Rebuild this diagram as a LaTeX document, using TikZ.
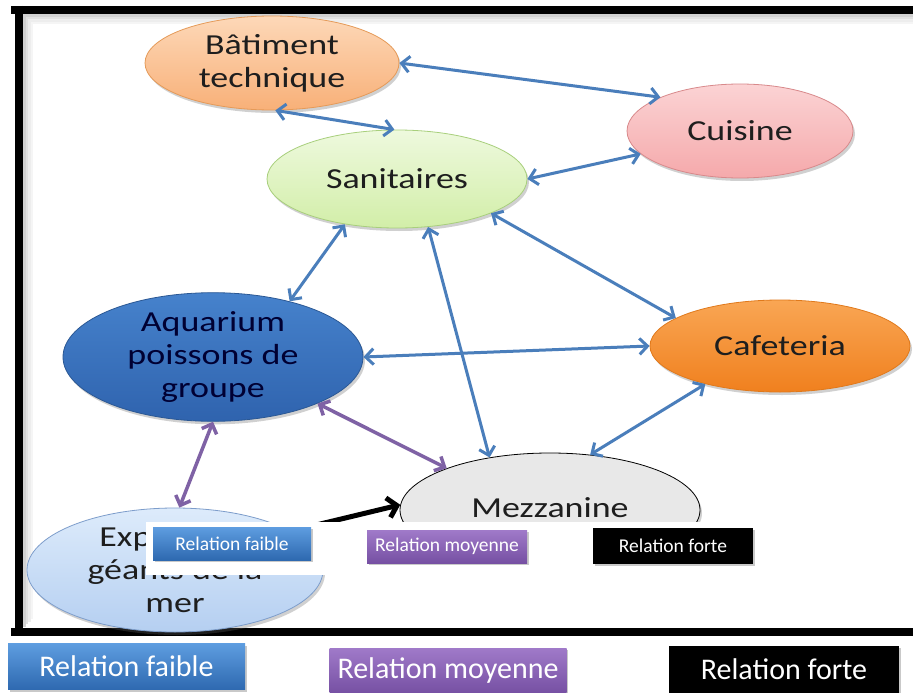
\documentclass[tikz,border=0pt]{standalone}
\usepackage{fontspec}
\setmainfont{Carlito}
\newfontfamily\bubfont[FakeStretch=1.24]{Carlito}
\usetikzlibrary{shapes.geometric,arrows.meta,shadows}
\definecolor{linkblue}{HTML}{4A7EBB}
\definecolor{linkpurple}{HTML}{7F62A5}
\definecolor{txt}{HTML}{1E1E1E}
\definecolor{batT}{HTML}{FDD8B8}\definecolor{batB}{HTML}{F8B078}\definecolor{batD}{HTML}{E59A58}
\definecolor{cuiT}{HTML}{FBD3D4}\definecolor{cuiB}{HTML}{F5A9AB}\definecolor{cuiD}{HTML}{D8898B}
\definecolor{sanT}{HTML}{EEF9DE}\definecolor{sanB}{HTML}{D2EEA8}\definecolor{sanD}{HTML}{A8CF7C}
\definecolor{aqT}{HTML}{4682CC}\definecolor{aqB}{HTML}{2F63AE}\definecolor{aqD}{HTML}{2B5894}
\definecolor{caT}{HTML}{F9A654}\definecolor{caB}{HTML}{F0801E}\definecolor{caD}{HTML}{E0791B}
\definecolor{exT}{HTML}{DDEBFB}\definecolor{exB}{HTML}{B5CFF1}\definecolor{exD}{HTML}{7D9DCB}
\definecolor{lbT}{HTML}{5E9DE0}\definecolor{lbB}{HTML}{2E69B0}
\definecolor{lpT}{HTML}{A07AC9}\definecolor{lpB}{HTML}{7650A3}
\tikzset{
  bubble/.style={ellipse, inner sep=0pt, align=center, text=txt,
    font=\bubfont\fontsize{29}{33}\selectfont, line width=0.8pt,
    drop shadow={shadow xshift=2pt, shadow yshift=-3pt, opacity=0.3, fill=black!60}},
  weak/.style={draw=linkblue, line width=3pt,
    {Straight Barb[length=8pt,width=16pt]}-{Straight Barb[length=8pt,width=16pt]}},
  medium/.style={draw=linkpurple, line width=3.5pt,
    {Straight Barb[length=8pt,width=16pt]}-{Straight Barb[length=8pt,width=16pt]}},
  strong/.style={draw=black, line width=5pt, -{Straight Barb[length=9pt,width=20pt]}},
  legendbox/.style={rectangle, inner sep=0pt, text=white,
    drop shadow={shadow xshift=1.5pt, shadow yshift=-2pt, opacity=0.35, fill=black!60}},
  bluebox/.style={legendbox, top color=lbT, bottom color=lbB},
  purplebox/.style={legendbox, top color=lpT, bottom color=lpB},
  blackbox/.style={legendbox, fill=black},
  smallleg/.style={font=\fontsize{19.5}{22}\selectfont},
  bigleg/.style={font=\fontsize{30}{34}\selectfont},
}
\begin{document}
\begin{tikzpicture}[x=1pt,y=-1pt]
\useasboundingbox (0,0) rectangle (913,693);
\fill[white] (0,0) rectangle (913,693);
% frame inner glow
\foreach \k/\o in {1/0.18,2/0.12,3/0.07,4/0.04}{
  \draw[black, opacity=\o, line width=2.5pt] (23+2.5*\k-1.2,632-4-2.5*\k+1.2) -- (23+2.5*\k-1.2,14+2.5*\k-1.2) -- (913,14+2.5*\k-1.2);
}
% frame
\draw[black, line width=8pt] (11,10) -- (913,10);
\draw[black, line width=8pt] (19,6) -- (19,636);
\draw[black, line width=8pt] (11,632) -- (913,632);

% nodes
\node[bubble, draw=batD, top color=batT, bottom color=batB,
  minimum width=254pt, minimum height=94pt] (bat) at (272,63) {Bâtiment\\technique};
\node[bubble, draw=cuiD, top color=cuiT, bottom color=cuiB,
  minimum width=226pt, minimum height=94pt] (cuis) at (740,131) {Cuisine};
\node[bubble, draw=sanD, top color=sanT, bottom color=sanB,
  minimum width=260pt, minimum height=98pt] (sani) at (397,179) {Sanitaires};
\node[bubble, draw=aqD, top color=aqT, bottom color=aqB,
  minimum width=300pt, minimum height=126pt, text=black!80!blue] (aqua) at (213,357) {Aquarium\\poissons de\\groupe};
\node[bubble, draw=caD, top color=caT, bottom color=caB,
  minimum width=260pt, minimum height=92pt] (cafe) at (780,346) {Cafeteria};
\node[bubble, draw=black, fill=black!9,
  minimum width=300pt, minimum height=114pt] (mezz) at (550,510) {\raisebox{4pt}{Mezzanine}};
\node[bubble, draw=exD, top color=exT, bottom color=exB,
  minimum width=296pt, minimum height=124pt] (exp) at (175,570) {Exposition\\géants de la\\mer};

% links
\draw[weak] (bat.0) -- (cuis.157);
\draw[weak] (bat.-86) -- (sani.93);
\draw[weak] (sani.0) -- (cuis.193);
\draw[weak] (sani.221) -- (aqua.36);
\draw[weak] (sani.-57) -- (mezz.139);
\draw[weak] (sani.-20) -- (cafe.165);
\draw[weak] (aqua.0) -- (cafe.180);
\draw[weak] (cafe.207) -- (mezz.54);
\draw[medium] (aqua.-90) -- (exp.86);
\draw[medium] (aqua.-24) -- (mezz.158);
\coordinate (strongstart) at (312,526);
\draw[strong] (strongstart) -- (mezz.178);

% white overlay with small legend
\fill[white] (146,522) rectangle (770,575);
\node[bluebox, smallleg, minimum width=158pt, minimum height=33pt] (sw) at (232,543.5) {Relation faible};
\node[purplebox, smallleg, minimum width=160pt, minimum height=33pt] (sm) at (447,546.5) {Relation moyenne};
\node[blackbox, smallleg, minimum width=160pt, minimum height=36pt] (ss) at (673,546) {Relation forte};

% bottom legend
\node[bluebox, bigleg, minimum width=237pt, minimum height=46pt] (lw) at (126.5,666.5) {Relation faible};
\node[purplebox, bigleg, minimum width=237pt, minimum height=45pt] (lm) at (448,670.5) {Relation moyenne};
\node[blackbox, bigleg, minimum width=230pt, minimum height=47pt] (lf) at (784,669.5) {Relation forte};
\end{tikzpicture}
\end{document}
